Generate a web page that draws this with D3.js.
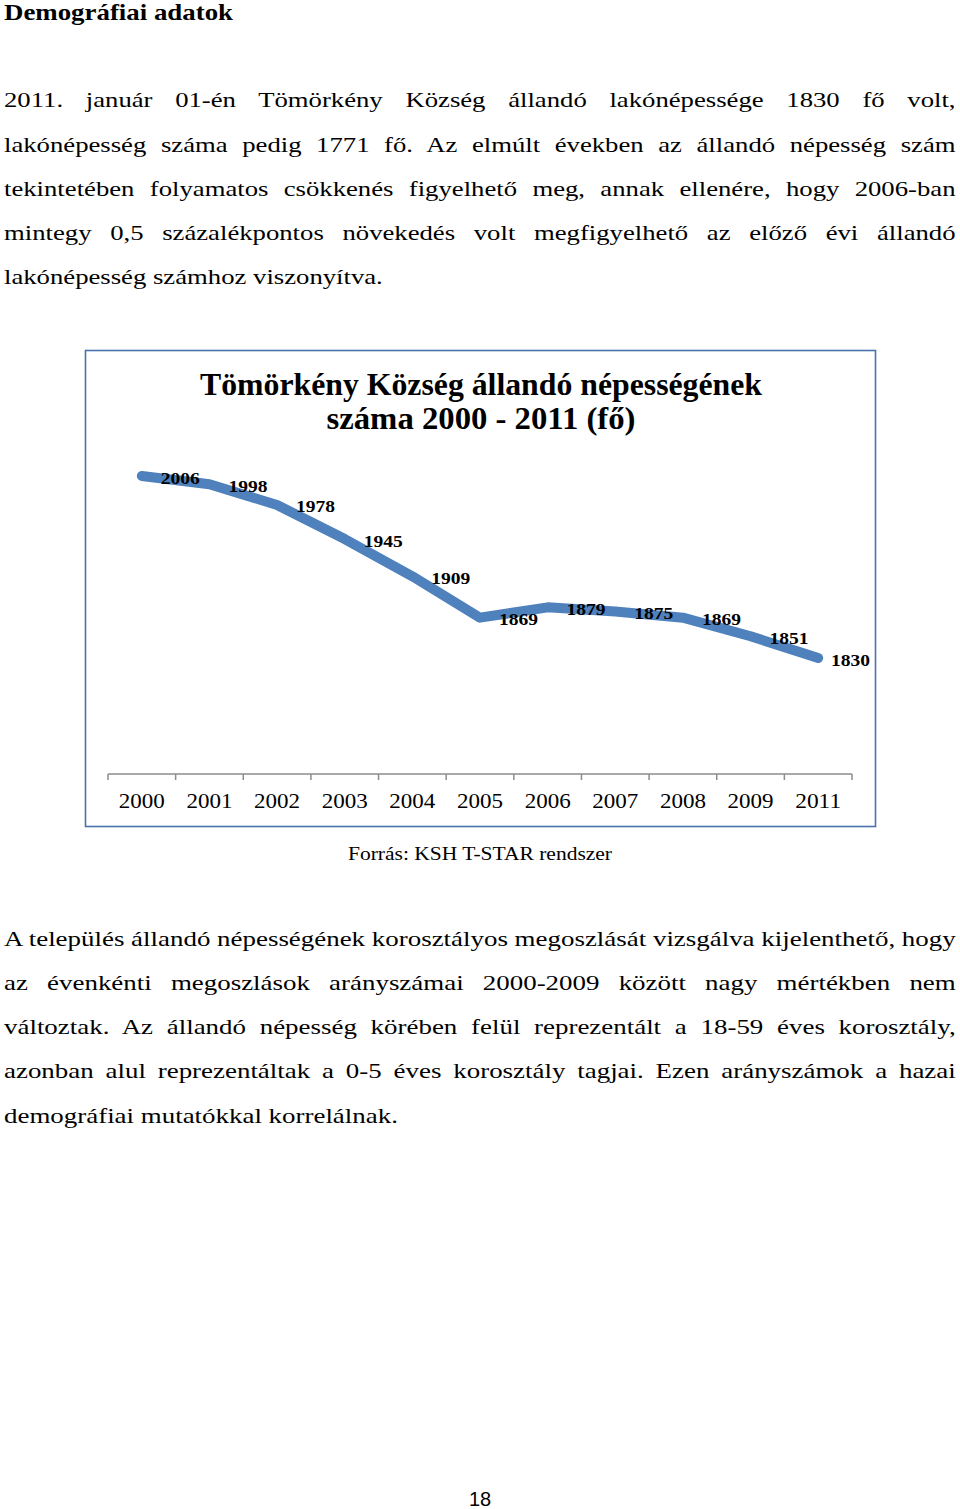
<!DOCTYPE html>
<html>
<head>
<meta charset="utf-8">
<script src="https://cdn.jsdelivr.net/npm/d3@7"></script>
<style>
  html, body { margin: 0; padding: 0; background: #fff; }
  svg { display: block; }
</style>
</head>
<body>
<svg id="page" width="960" height="1509"></svg>
<script>
// ---------- data ----------
const categories = ["2000","2001","2002","2003","2004","2005","2006","2007","2008","2009","2011"];
const population = [2006, 1998, 1978, 1945, 1909, 1869, 1879, 1875, 1869, 1851, 1830];
const chartTitle = ["Tömörkény Község állandó népességének", "száma 2000 - 2011 (fő)"];
const sourceText = "Forrás: KSH T-STAR rendszer";
const heading = "Demográfiai adatok";
const para1 = [
  "2011. január 01-én Tömörkény Község állandó lakónépessége 1830 fő volt,",
  "lakónépesség száma pedig 1771 fő. Az elmúlt években az állandó népesség szám",
  "tekintetében folyamatos csökkenés figyelhető meg, annak ellenére, hogy 2006-ban",
  "mintegy 0,5 százalékpontos növekedés volt megfigyelhető az előző évi állandó",
  "lakónépesség számhoz viszonyítva."
];
const para2 = [
  "A település állandó népességének korosztályos megoszlását vizsgálva kijelenthető, hogy",
  "az évenkénti megoszlások arányszámai 2000-2009 között nagy mértékben nem",
  "változtak. Az állandó népesség körében felül reprezentált a 18-59 éves korosztály,",
  "azonban alul reprezentáltak a 0-5 éves korosztály tagjai. Ezen arányszámok a hazai",
  "demográfiai mutatókkal korrelálnak."
];
const pageNumber = "18";

// ---------- setup ----------
const svg = d3.select("#page");
const SERIF = "'Liberation Serif', 'DejaVu Serif', serif";

function fitWidth(sel, w) {
  sel.attr("textLength", w).attr("lengthAdjust", "spacingAndGlyphs");
}

// heading
const h = svg.append("text").attr("x", 4).attr("y", 20)
  .style("font-family", SERIF).style("font-weight", "bold").style("font-size", "23px")
  .attr("fill", "#000").text(heading);
fitWidth(h, 229);

// paragraph renderer (justified)
function paragraph(lines, baselines, lastWidth) {
  const left = 4, right = 956, full = right - left, fs = 22;
  const nodes = lines.map((ln, i) => svg.append("text")
    .attr("transform", `translate(${left},${baselines[i]})`)
    .style("font-family", SERIF).style("font-size", fs + "px")
    .attr("fill", "#000").text(ln));
  const lastNat = nodes[nodes.length - 1].node().getComputedTextLength();
  const sx = lastWidth / lastNat;
  nodes.forEach((t, i) => {
    const nat = t.node().getComputedTextLength();
    const last = i === nodes.length - 1;
    let lsx = sx, ws = 0;
    if (!last) {
      const gaps = lines[i].split(" ").length - 1;
      ws = (full / sx - nat) / gaps;
      if (ws < 0) { ws = 0; lsx = full / nat; }
    }
    t.attr("transform", `translate(${left},${baselines[i]}) scale(${lsx},1)`)
     .style("word-spacing", ws + "px");
  });
}
paragraph(para1, [107, 152, 196, 240, 284], 379);
paragraph(para2, [946, 990, 1034, 1078, 1123], 394);

// ---------- chart ----------
const box = { x: 85, y: 350, w: 790, h: 476 };
svg.append("rect")
  .attr("x", box.x + 0.5).attr("y", box.y + 0.5)
  .attr("width", box.w).attr("height", box.h)
  .attr("fill", "#fff").attr("stroke", "#4a72ab").attr("stroke-width", 1.6);

// title
chartTitle.forEach((t, i) => {
  const el = svg.append("text").attr("x", 481).attr("y", [395, 429][i])
    .attr("text-anchor", "middle")
    .style("font-family", SERIF).style("font-weight", "bold").style("font-size", "31px")
    .attr("fill", "#000").text(t);
  fitWidth(el, [562, 309][i]);
});

const x = d3.scaleBand().domain(categories).range([108, 852]).padding(0);
const y = d3.scaleLinear().domain([1830, 2006]).range([658, 476]);
const axisY = 774;

// axis line + tick marks at band boundaries
const g = svg.append("g");
g.append("line").attr("x1", x.range()[0]).attr("x2", x.range()[1])
  .attr("y1", axisY).attr("y2", axisY)
  .attr("stroke", "#8c8c8c").attr("stroke-width", 1.5);
const bounds = categories.map(c => x(c)).concat([x.range()[1]]);
g.selectAll("line.tick").data(bounds).join("line").attr("class", "tick")
  .attr("x1", d => d).attr("x2", d => d)
  .attr("y1", axisY).attr("y2", axisY + 6)
  .attr("stroke", "#8c8c8c").attr("stroke-width", 1.5);

// category labels via axis
const ax = svg.append("g").attr("transform", `translate(0,${axisY})`)
  .call(d3.axisBottom(x).tickSize(0).tickPadding(0));
ax.select(".domain").remove();
ax.selectAll("text")
  .attr("y", 34).attr("dy", null)
  .style("font-family", SERIF).style("font-size", "21px").attr("fill", "#000")
  .each(function () { fitWidth(d3.select(this), 46); });

// line
const cx = c => x(c) + x.bandwidth() / 2;
const pts = categories.map((c, i) => [cx(c), y(population[i])]);
svg.append("path")
  .attr("d", d3.line()(pts))
  .attr("fill", "none").attr("stroke", "#4f81bd")
  .attr("stroke-width", 10).attr("stroke-linecap", "round").attr("stroke-linejoin", "round");

// data labels
const labelW = 39;
svg.selectAll("text.dl").data(population).join("text").attr("class", "dl")
  .attr("x", (d, i) => Math.min(cx(categories[i]) + 19, box.x + box.w - 5 - labelW))
  .attr("y", (d, i) => y(d) + 7.5)
  .style("font-family", SERIF).style("font-weight", "bold").style("font-size", "16px")
  .attr("fill", "#000").text(d => d)
  .each(function () { fitWidth(d3.select(this), labelW); });

// source
const src = svg.append("text").attr("x", 480).attr("y", 860).attr("text-anchor", "middle")
  .style("font-family", SERIF).style("font-size", "19px").attr("fill", "#000").text(sourceText);
fitWidth(src, 264);

// page number
svg.append("text").attr("x", 480).attr("y", 1506).attr("text-anchor", "middle")
  .style("font-family", "'Liberation Sans', Arial, sans-serif").style("font-size", "20px")
  .attr("fill", "#000").text(pageNumber);
</script>
</body>
</html>
